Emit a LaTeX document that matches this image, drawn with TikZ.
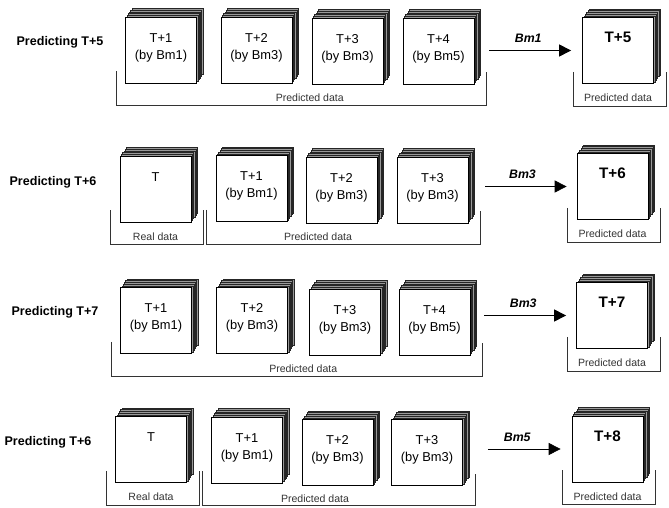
\documentclass[tikz,border=0pt]{standalone}
\usepackage{fontspec}
\setmainfont{Liberation Sans}
\usetikzlibrary{arrows.meta,positioning,calc}
\definecolor{stackgray}{HTML}{999999}
\definecolor{stackline}{HTML}{262626}
\definecolor{linedark}{HTML}{333333}
\tikzset{
  >=Latex,
  rowtitle/.style={font=\bfseries\fontsize{10.7}{12}\selectfont},
  frontbox/.style={
    rectangle, draw=black, fill=white, line width=0.6pt,
    minimum width=2.13cm, minimum height=1.98cm, inner sep=0pt
  },
  backlayer/.style={draw=stackline, fill=stackgray, line width=0.35pt},
  boxtext/.style={font=\fontsize{11}{14.5}\selectfont, align=center,
    anchor=north, inner sep=0pt, yshift=-14pt},
  bigtext/.style={font=\bfseries\fontsize{13}{15}\selectfont,
    anchor=north, inner sep=0pt, yshift=-12.4pt},
  bracket/.style={draw=linedark, line width=0.6pt},
  datalabel/.style={font=\fontsize{9}{11}\selectfont, text=linedark},
  arrow/.style={-{Triangle[length=3.6mm,width=3.6mm]}, line width=0.6pt},
  model/.style={font=\bfseries\itshape\fontsize{10.5}{12}\selectfont, above=3pt}
}
% stack of frames: [text style] name, centre, text
\newcommand{\datastack}[4][boxtext]{
  \foreach \k in {5,4,...,1}
    \draw[backlayer] ($(#3)+(1.3*\k,-1.7*\k)$) ++(-35.5,-33) rectangle ++(71,66);
  \node[frontbox, label={[#1]north:{#4}}] (#2) at (#3) {};
}
% bracket under frames: [label shift] first, last, text
\newcommand{\databrace}[4][0pt]{
  \draw[bracket] ($(#2.south west)+(-9,-12)$) -- ($(#2.south west)+(-9,22)$)
    -| ($(#3.south east)+(12,-12)$);
  \node[datalabel, xshift=#1] (#2-lbl) at ($(#2.south west)!0.5!(#3.south east)+(0,14)$) {#4};
}

\begin{document}
\begin{tikzpicture}[x=0.03cm, y=-0.03cm]
\useasboundingbox (0,0) rectangle (669,508);

% row 1
\node[rowtitle] (r1title) at (60,42) {Predicting T+5};
\datastack{r1a}{161,50}{T+1\\(by Bm1)}
\datastack{r1b}{256.5,50}{T+2\\(by Bm3)}
\datastack{r1c}{347.5,51}{T+3\\(by Bm3)}
\datastack{r1d}{438.5,51}{T+4\\(by Bm5)}
\datastack[bigtext]{r1out}{618,50.5}{T+5}
\databrace[0.3cm]{r1a}{r1d}{Predicted data}
\databrace{r1out}{r1out}{Predicted data}
\draw[arrow, shorten <=0.45cm, shorten >=0.33cm] (r1d.east |- r1out) -- (r1out.west)
  node[model, midway] (r1model) {Bm1};

% row 2
\node[rowtitle] (r2title) at (53,182) {Predicting T+6};
\datastack{r2a}{155.5,189}{T}
\datastack{r2b}{251.5,188.5}{T+1\\(by Bm1)}
\datastack{r2c}{341.5,190}{T+2\\(by Bm3)}
\datastack{r2d}{432.5,190}{T+3\\(by Bm3)}
\datastack[bigtext]{r2out}{612.5,186.5}{T+6}
\databrace{r2a}{r2a}{Real data}
\databrace[-0.72cm]{r2b}{r2d}{Predicted data}
\databrace{r2out}{r2out}{Predicted data}
\draw[arrow, shorten <=0.51cm, shorten >=0.3cm] (r2d.east |- r2out) -- (r2out.west)
  node[model, midway] (r2model) {Bm3};

% row 3
\node[rowtitle] (r3title) at (55,312) {Predicting T+7};
\datastack{r3a}{156,320.5}{T+1\\(by Bm1)}
\datastack{r3b}{252,320.5}{T+2\\(by Bm3)}
\datastack{r3c}{345,322}{T+3\\(by Bm3)}
\datastack{r3d}{434.5,322}{T+4\\(by Bm5)}
\datastack[bigtext]{r3out}{612,315.5}{T+7}
\databrace[0.24cm]{r3a}{r3d}{Predicted data}
\databrace{r3out}{r3out}{Predicted data}
\draw[arrow, shorten <=0.42cm, shorten >=0.3cm] (r3d.east |- r3out) -- (r3out.west)
  node[model, midway] (r3model) {Bm3};

% row 4
\node[rowtitle] (r4title) at (48,442) {Predicting T+6};
\datastack{r4a}{151,449.5}{T}
\datastack{r4b}{247,450}{T+1\\(by Bm1)}
\datastack{r4c}{337.5,452.5}{T+2\\(by Bm3)}
\datastack{r4d}{427,452.5}{T+3\\(by Bm3)}
\datastack[bigtext]{r4out}{607.5,449}{T+8}
\databrace{r4a}{r4a}{Real data}
\databrace[-0.66cm]{r4b}{r4d}{Predicted data}
\databrace{r4out}{r4out}{Predicted data}
\draw[arrow, shorten <=0.75cm, shorten >=0.33cm] (r4d.east |- r4out) -- (r4out.west)
  node[model, midway] (r4model) {Bm5};
\end{tikzpicture}
\end{document}
